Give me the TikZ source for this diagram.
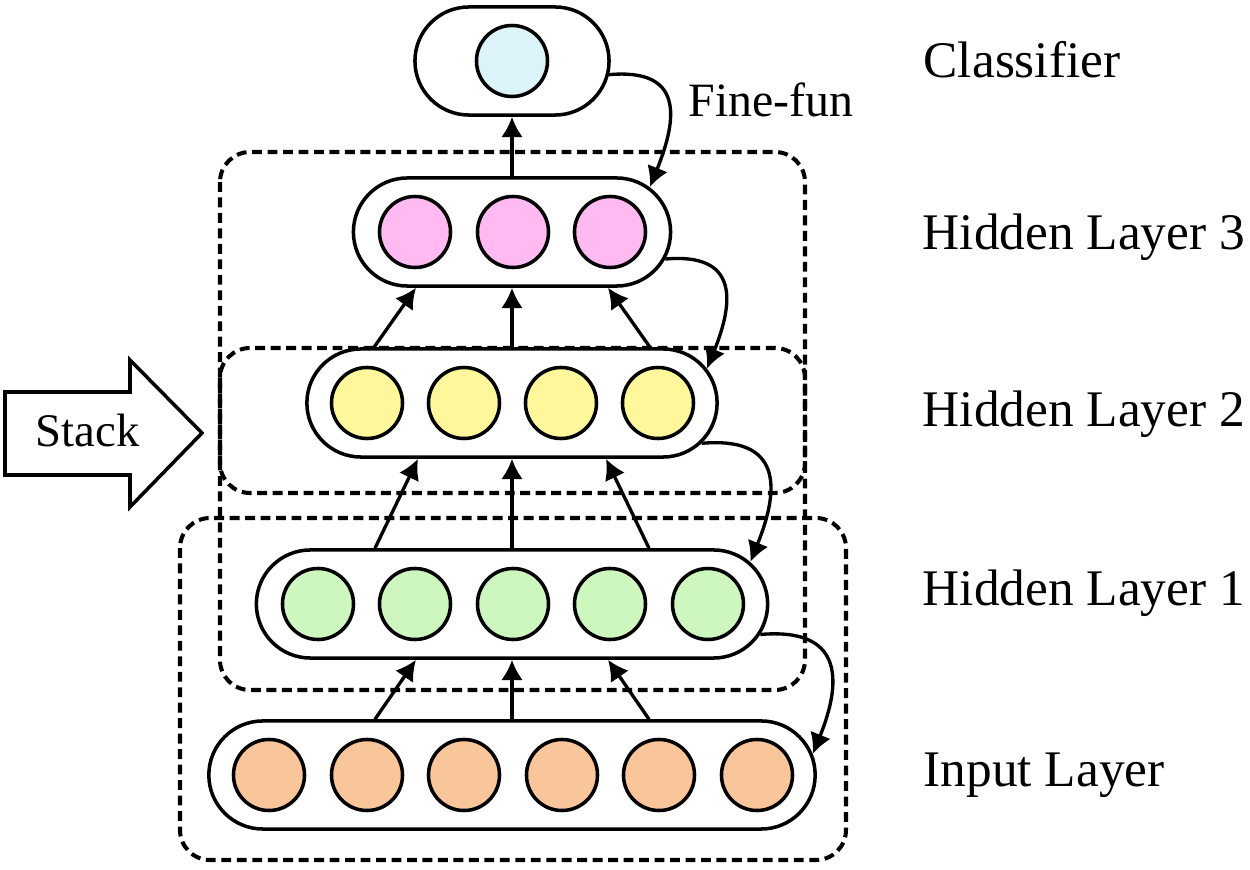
\documentclass[tikz,border=0pt]{standalone}
\usepackage{fontspec}
\setmainfont{Liberation Serif}
\usetikzlibrary{
  arrows.meta,
  calc,
  positioning,
  shapes.misc
}
\definecolor{clsblue}{RGB}{220,243,249}
\definecolor{hidpink}{RGB}{255,186,241}
\definecolor{hidyellow}{RGB}{255,247,155}
\definecolor{hidgreen}{RGB}{205,247,190}
\definecolor{inorange}{RGB}{249,197,155}

\begin{document}
\begin{tikzpicture}[x=0.01cm,y=0.01cm,>={Latex[length=5.8pt,width=6.2pt]},
  layer/.style={draw,fill=white,rounded rectangle,line width=1pt,minimum height=1.08cm,inner sep=0pt},
  unit/.style={draw,circle,line width=1pt,minimum size=0.71cm,inner sep=0pt},
  frame/.style={line width=1.15pt,dash pattern=on 2.8pt off 1.6pt,rounded corners=0.3cm},
  lab/.style={anchor=base west,inner sep=0pt,font=\fontsize{14.6pt}{17pt}\selectfont},
  flow/.style={line width=0.95pt,->},
  back/.style={line width=0.95pt,->,out=5,in=68,looseness=1.6}]
  \useasboundingbox (0,0) rectangle (1250,-870);
  % dashed stacking frames
  \draw[frame] (220,-152) rectangle (805,-690);
  \draw[frame] (220,-348) rectangle (805,-493);
  \draw[frame] (180,-518) rectangle (846,-860);
  % stack arrow
  \draw[line width=1pt] (5,-392) -- (130,-392) -- (130,-360) -- (202,-433)
    -- (130,-507) -- (130,-475) -- (5,-475) -- cycle;
  \node[anchor=base west,inner sep=0pt,font=\fontsize{13.3pt}{16pt}\selectfont] (stack) at (35,-447) {Stack};
  % layer boxes
  \node[layer,minimum width=6.06cm] (L0) at (512,-775) {};
  \node[layer,minimum width=5.11cm] (L1) at (512,-604) {};
  \node[layer,minimum width=4.10cm] (L2) at (512,-403) {};
  \node[layer,minimum width=3.17cm] (L3) at (512,-232) {};
  \node[layer,minimum width=1.94cm] (L4) at (512,-61)  {};
  % units
  \node[unit,fill=inorange] (in1) at (269,-775) {};
  \node[unit,fill=inorange] (in2) at (367,-775) {};
  \node[unit,fill=inorange] (in3) at (464,-775) {};
  \node[unit,fill=inorange] (in4) at (562,-775) {};
  \node[unit,fill=inorange] (in5) at (659,-775) {};
  \node[unit,fill=inorange] (in6) at (757,-775) {};
  \node[unit,fill=hidgreen] (h11) at (318,-604) {};
  \node[unit,fill=hidgreen] (h12) at (415,-604) {};
  \node[unit,fill=hidgreen] (h13) at (513,-604) {};
  \node[unit,fill=hidgreen] (h14) at (610,-604) {};
  \node[unit,fill=hidgreen] (h15) at (708,-604) {};
  \node[unit,fill=hidyellow] (h21) at (367,-403) {};
  \node[unit,fill=hidyellow] (h22) at (464,-403) {};
  \node[unit,fill=hidyellow] (h23) at (561,-403) {};
  \node[unit,fill=hidyellow] (h24) at (658,-403) {};
  \node[unit,fill=hidpink] (h31) at (415,-232) {};
  \node[unit,fill=hidpink] (h32) at (513,-232) {};
  \node[unit,fill=hidpink] (h33) at (610,-232) {};
  \node[unit,fill=clsblue] (cls) at (512,-61) {};
  % upward connections
  \draw[flow] ([shift={(-137,0)}]L0.north) -- ([shift={(-96,0)}]L1.south);
  \draw[flow] (L0.north) -- (L1.south);
  \draw[flow] ([shift={(137,0)}]L0.north) -- ([shift={(96,0)}]L1.south);
  \draw[flow] ([shift={(-137,0)}]L1.north) -- ([shift={(-94,0)}]L2.south);
  \draw[flow] (L1.north) -- (L2.south);
  \draw[flow] ([shift={(137,0)}]L1.north) -- ([shift={(94,0)}]L2.south);
  \draw[flow] ([shift={(-138,0)}]L2.north) -- ([shift={(-96,0)}]L3.south);
  \draw[flow] (L2.north) -- (L3.south);
  \draw[flow] ([shift={(138,0)}]L2.north) -- ([shift={(96,0)}]L3.south);
  \draw[flow] (L3.north) -- (L4.south);
  % fine-tuning path
  \draw[back] (L4.-8)  to (L3.18);
  \draw[back] (L3.-10) to (L2.10);
  \draw[back] (L2.-12) to (L1.10);
  \draw[back] (L1.-7)  to (L0.4);
  \node[anchor=base west,inner sep=0pt,font=\fontsize{13.6pt}{16pt}\selectfont] (fine) at (688,-117) {Fine-fun};
  % layer names
  \node[lab] (tcls) at (923,-78)  {Classifier};
  \node[lab] (th3)  at (922,-250) {Hidden Layer 3};
  \node[lab] (th2)  at (922,-427) {Hidden Layer 2};
  \node[lab] (th1)  at (922,-606) {Hidden Layer 1};
  \node[lab] (tin)  at (923,-787) {Input Layer};
\end{tikzpicture}
\end{document}
